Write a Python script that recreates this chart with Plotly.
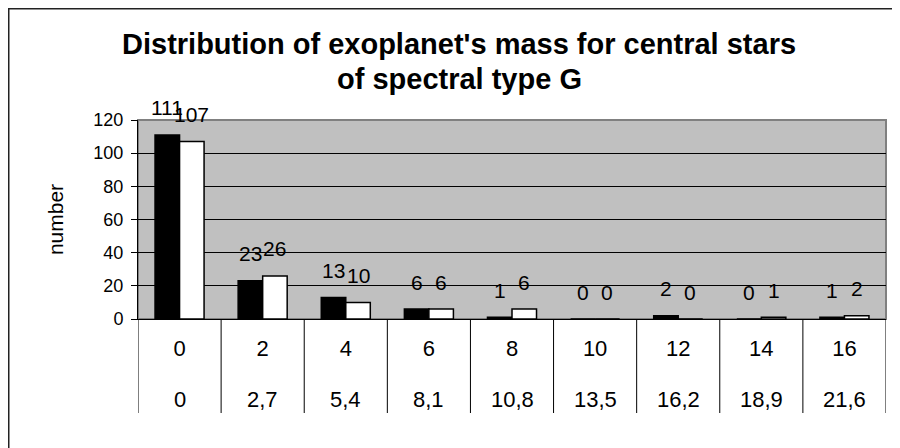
import plotly.graph_objects as go

# ---- data ----
mass_bins = ["0", "2", "4", "6", "8", "10", "12", "14", "16"]
mass_bins_2 = ["0", "2,7", "5,4", "8,1", "10,8", "13,5", "16,2", "18,9", "21,6"]
series_black = [111, 23, 13, 6, 1, 0, 2, 0, 1]
series_white = [107, 26, 10, 6, 6, 0, 0, 1, 2]
y_ticks = [0, 20, 40, 60, 80, 100, 120]
title_lines = ["Distribution of exoplanet's mass for central stars", "of spectral type G"]

FONT = "Liberation Sans, Arial, sans-serif"
W, H = 900, 448
ML, MR, MT, MB = 130, 22, 112, 137
PH = H - MT - MB  # plot height in px
PW = W - ML - MR
BASE = H - MB     # y pixel of the x axis
BARGAP = 0.41


def py(pix):  # figure pixel (from top) -> paper y
    return (BASE - pix) / PH


def px(pix):  # figure pixel (from left) -> paper x
    return (pix - ML) / PW


idx = list(range(len(mass_bins)))

fig = go.Figure()
fig.add_trace(go.Bar(x=idx, y=series_black, marker=dict(color="black", line=dict(color="black", width=1.5)),
                     showlegend=False, hoverinfo="y"))
fig.add_trace(go.Bar(x=idx, y=series_white, marker=dict(color="white", line=dict(color="black", width=1.5)),
                     showlegend=False, hoverinfo="y"))

annotations = []
off = (1 - BARGAP) / 4
for i, (a, b) in enumerate(zip(series_black, series_white)):
    annotations.append(dict(x=i - off, y=a, xref="x", yref="y", text=str(a), showarrow=False,
                            yshift=27, font=dict(family=FONT, size=21, color="black")))
    annotations.append(dict(x=i + off, y=b, xref="x", yref="y", text=str(b), showarrow=False,
                            yshift=27, font=dict(family=FONT, size=21, color="black")))
# second row of category labels
for i, lab in enumerate(mass_bins_2):
    annotations.append(dict(x=i, y=py(391), xref="x", yref="paper", text=lab,
                            showarrow=False, yanchor="middle",
                            font=dict(family=FONT, size=22, color="black")))
# title (two lines)
for t, yy in zip(title_lines, [36, 71]):
    annotations.append(dict(x=px(451), y=py(yy), xref="paper", yref="paper", text="<b>%s</b>" % t,
                            showarrow=False, xanchor="center", yanchor="middle",
                            font=dict(family=FONT, size=29, color="black")))

shapes = []
# category dividers
for i in range(len(mass_bins) + 1):
    shapes.append(dict(type="line", xref="x", yref="paper", x0=i - 0.5, x1=i - 0.5,
                       y0=0, y1=py(405), line=dict(color="black", width=1)))
# plot area border
shapes.append(dict(type="rect", xref="paper", yref="paper", x0=0, x1=1, y0=0, y1=1,
                   line=dict(color="#808080", width=2), layer="below"))
# outer chart border
shapes.append(dict(type="rect", xref="paper", yref="paper",
                   x0=px(0.5), x1=px(920), y0=py(470), y1=py(0.5),
                   line=dict(color="#222222", width=2)))

fig.update_layout(
    width=W, height=H,
    margin=dict(l=ML, r=MR, t=MT, b=MB, autoexpand=False),
    paper_bgcolor="white", plot_bgcolor="#c0c0c0",
    barmode="group", bargap=BARGAP, bargroupgap=0,
    xaxis=dict(range=[-0.5, len(mass_bins) - 0.5], tickvals=idx, ticktext=mass_bins,
               ticks="", showgrid=False, zeroline=False, showline=True, linecolor="black",
               linewidth=1, tickfont=dict(family=FONT, size=22, color="black"),
               ticklabelstandoff=10),
    yaxis=dict(range=[0, 120], tickvals=y_ticks, ticks="outside", ticklen=6, tickcolor="black",
               showgrid=True, gridcolor="black", gridwidth=1, zeroline=False,
               showline=True, linecolor="black", linewidth=1,
               tickfont=dict(family=FONT, size=18, color="black"), ticklabelstandoff=4,
               title=dict(text="number", font=dict(family=FONT, size=21, color="black"), standoff=24)),
    annotations=annotations, shapes=shapes,
)

fig.write_html("out.html")
